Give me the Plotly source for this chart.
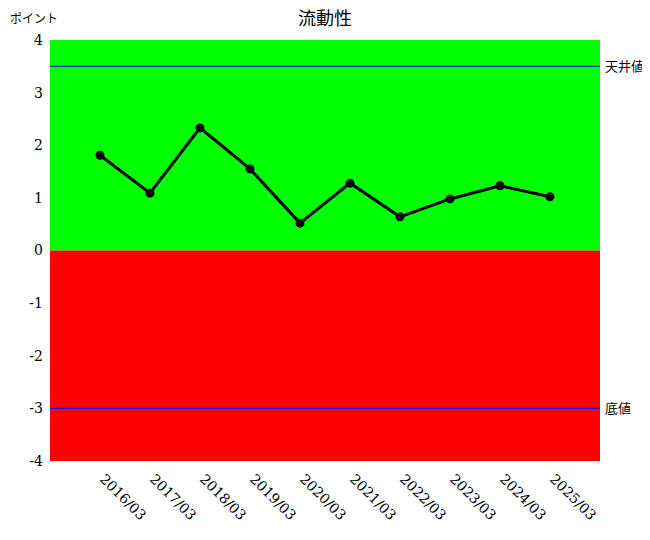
import plotly.graph_objects as go

categories = ["2016/03", "2017/03", "2018/03", "2019/03", "2020/03",
              "2021/03", "2022/03", "2023/03", "2024/03", "2025/03"]
values = [1.81, 1.09, 2.33, 1.55, 0.52, 1.28, 0.64, 0.98, 1.23, 1.02]
ceiling_value = 3.5
floor_value = -3.0
ceiling_label = "天井値"
floor_label = "底値"
y_ticks = [-4, -3, -2, -1, 0, 1, 2, 3, 4]
y_tick_labels = ["-4", "-3", "-2", "-1", "0", "1", "2", "3", "4"]
title_text = "流動性"
y_title = "ポイント"

serif = "'DejaVu Serif', serif"
label_font = "'DejaVu Serif', 'Noto Sans CJK JP', serif"

fig = go.Figure()
fig.add_trace(go.Scatter(
    x=list(range(len(categories))), y=values, mode="lines+markers",
    line=dict(color="black", width=3),
    marker=dict(color="black", size=9, symbol="circle"),
    showlegend=False, hoverinfo="y",
))

n = len(categories)
fig.add_shape(type="rect", xref="x", yref="y", x0=-1, x1=n, y0=0, y1=4,
              fillcolor="#00ff00", line_width=0, layer="below")
fig.add_shape(type="rect", xref="x", yref="y", x0=-1, x1=n, y0=-4, y1=0,
              fillcolor="#ff0000", line_width=0, layer="below")
for v in (ceiling_value, floor_value):
    fig.add_shape(type="line", xref="x", yref="y", x0=-1, x1=n, y0=v, y1=v,
                  line=dict(color="blue", width=1), layer="below")

fig.add_annotation(x=1, xref="paper", y=ceiling_value, yref="y", text=ceiling_label,
                   showarrow=False, xanchor="left", xshift=3,
                   font=dict(family=label_font, size=13, color="black"))
fig.add_annotation(x=1, xref="paper", y=floor_value, yref="y", text=floor_label,
                   showarrow=False, xanchor="left", xshift=3,
                   font=dict(family=label_font, size=13, color="black"))
fig.add_annotation(x=0, xref="paper", xanchor="left", xshift=-42, y=4, yref="y",
                   yshift=21, text=y_title, showarrow=False,
                   font=dict(family=label_font, size=12, color="black"))

fig.update_layout(
    width=650, height=540,
    margin=dict(l=42, r=58, t=32, b=87, autoexpand=False),
    paper_bgcolor="white", plot_bgcolor="white",
    title=dict(text=title_text, x=0.5, xanchor="center", xref="paper",
               y=1 - 11 / 540, yanchor="middle",
               font=dict(family="Noto Sans CJK JP", size=18, color="black")),
    xaxis=dict(range=[-1, n], tickmode="array",
               tickvals=list(range(n)), ticktext=categories,
               tickangle=45, showgrid=False, zeroline=False, showline=False,
               automargin=False, ticklabelstandoff=6, ticklabelshift=4,
               tickfont=dict(family=serif, size=14, color="black")),
    yaxis=dict(range=[-4, 4], tickmode="array", tickvals=y_ticks,
               ticktext=y_tick_labels, automargin=False,
               showgrid=False, zeroline=False, showline=False, ticks="",
               ticklabelstandoff=6,
               tickfont=dict(family=serif, size=14, color="black")),
)

fig.write_html("out.html")
